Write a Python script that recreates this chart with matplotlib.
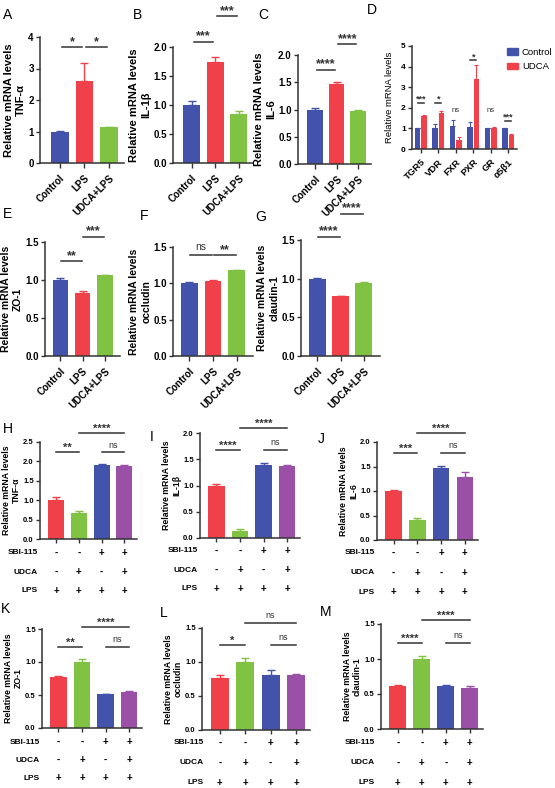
import matplotlib
matplotlib.use("Agg")
import matplotlib.pyplot as plt
import numpy as np
from matplotlib.patches import Patch
from matplotlib.transforms import blended_transform_factory

plt.rcParams['font.family'] = ['Liberation Sans', 'DejaVu Sans']

# ---- data ----
groups3 = ["Control", "LPS", "UDCA+LPS"]
tnf_a = [1.0, 2.6, 1.13]
tnf_a_err = [0.02, 0.57, 0.02]
il1b_b = [1.0, 1.75, 0.85]
il1b_b_err = [0.07, 0.08, 0.05]
il6_c = [1.0, 1.46, 0.98]
il6_c_err = [0.02, 0.04, 0.01]

genes = ["TGR5", "VDR", "FXR", "PXR", "GR", "α5β1"]
ctrl_d = [1.0, 1.03, 1.1, 1.05, 1.0, 1.0]
ctrl_d_err = [0.02, 0.2, 0.3, 0.25, 0.03, 0.01]
udca_d = [1.6, 1.73, 0.45, 3.4, 1.03, 0.7]
udca_d_err = [0.05, 0.13, 0.14, 0.68, 0.04, 0.01]
sig_d = ["***", "*", "ns", "*", "ns", "***"]
sig_d_y = [2.24, 2.24, 1.7, 4.3, 1.7, 1.38]

zo1_e = [1.0, 0.83, 1.06]
zo1_e_err = [0.02, 0.03, 0.01]
occ_f = [1.0, 1.03, 1.18]
occ_f_err = [0.02, 0.01, 0.01]
cla_g = [1.0, 0.77, 0.95]
cla_g_err = [0.01, 0.01, 0.01]

sbi = ["-", "-", "+", "+"]
udca_t = ["-", "+", "-", "+"]
lps = ["+", "+", "+", "+"]
row_names = ["SBI-115", "UDCA", "LPS"]

tnf_h = [1.0, 0.68, 1.92, 1.87]
tnf_h_err = [0.08, 0.03, 0.01, 0.04]
il1b_i = [1.0, 0.14, 1.4, 1.37]
il1b_i_err = [0.02, 0.03, 0.03, 0.03]
il6_j = [1.0, 0.41, 1.46, 1.28]
il6_j_err = [0.03, 0.03, 0.05, 0.11]
zo1_k = [0.77, 1.0, 0.51, 0.54]
zo1_k_err = [0.02, 0.05, 0.01, 0.02]
occ_l = [0.77, 1.0, 0.81, 0.81]
occ_l_err = [0.04, 0.06, 0.07, 0.02]
cla_m = [0.62, 1.0, 0.62, 0.59]
cla_m_err = [0.01, 0.05, 0.01, 0.02]

BLUE = "#4352AA"
RED = "#F0404A"
GREEN = "#80C342"
PURPLE = "#9A50A6"
LINE = "#333333"
cols3 = [BLUE, RED, GREEN]
cols4 = [RED, GREEN, BLUE, PURPLE]

W, H = 555, 788
fig = plt.figure(figsize=(W / 100, H / 100), dpi=100)


def box(x0, x1, ytop, ybot):
    return fig.add_axes([x0 / W, 1 - ybot / H, (x1 - x0) / W, (ybot - ytop) / H])


def style(ax, ymax, step, fs, fmt="{:.1f}"):
    for s in ["top", "right"]:
        ax.spines[s].set_visible(False)
    for s in ["left", "bottom"]:
        ax.spines[s].set_linewidth(1.1)
        ax.spines[s].set_color(LINE)
    ticks = np.arange(0, ymax + 1e-9, step)
    ax.set_ylim(0, ymax)
    ax.set_yticks(ticks)
    ax.set_yticklabels([fmt.format(t) for t in ticks], fontweight="bold", fontsize=fs)
    ax.tick_params(length=3, width=1, color=LINE, pad=1.5)


def bars(ax, vals, errs, cols, width=0.72):
    x = np.arange(len(vals))
    ax.bar(x, vals, width=width, color=cols, zorder=2)
    for xi, v, e, c in zip(x, vals, errs, cols):
        ax.errorbar(xi, v, yerr=[[0], [e]], color=c, capsize=3, elinewidth=1, capthick=1, zorder=1)
    return x


def sig(ax, x1, x2, y, txt, fs=8, shrink=0.04):
    ax.plot([x1 + shrink, x2 - shrink], [y, y], color=LINE, lw=1.1, clip_on=False)
    label(ax, (x1 + x2) / 2, y, txt, fs)


def label(ax, x, y, txt, fs=8):
    if txt == "ns":
        ax.annotate(txt, (x, y), xytext=(0, 2), textcoords="offset points", ha="center",
                    va="bottom", fontsize=fs - 1.5, color=LINE, annotation_clip=False)
    else:
        ax.annotate(txt, (x, y), xytext=(0, -0.5), textcoords="offset points", ha="center",
                    va="bottom", fontsize=fs, fontweight="bold", color=LINE, annotation_clip=False)


def letter(ch, x, y):
    fig.text(x / W, 1 - y / H, ch, fontsize=10, va="top", ha="left")


def sign_rows(ax, xr, ys):
    tr = blended_transform_factory(ax.transData, fig.transFigure)
    for name, signs, y in zip(row_names, [sbi, udca_t, lps], ys):
        fig.text(xr / W, 1 - y / H, name, ha="right", va="center", fontsize=6, fontweight="bold")
        for i, s in enumerate(signs):
            ax.text(i, 1 - y / H, s, transform=tr, ha="center", va="center",
                    fontsize=7, fontweight="bold")


# ---- row 1: A, B, C ----
row1 = [
    ("A", (40, 124, 37, 163), tnf_a, tnf_a_err, 4, 1, "{:.0f}", "TNF-α",
     [(0, 1, "*", 3.67), (1, 2, "*", 3.67)], (3, 8)),
    ("B", (173, 253, 47, 163), il1b_b, il1b_b_err, 2.0, 0.5, "{:.1f}", "IL-1β",
     [(0, 1, "***", 2.09), (1, 2, "***", 2.53)], (133, 8)),
    ("C", (298, 371, 55, 164), il6_c, il6_c_err, 2.0, 0.5, "{:.1f}", "IL-6",
     [(0, 1, "****", 1.73), (1, 2, "****", 2.2)], (258, 8)),
]
for ch, bx, vals, errs, ymax, step, fmt, gene, sigs, lp in row1:
    ax = box(*bx)
    x = bars(ax, vals, errs, cols3)
    style(ax, ymax, step, 7, fmt)
    ax.set_xlim(-0.8, 2.6)
    ax.set_xticks(x)
    ax.set_xticklabels(groups3, rotation=45, ha="right", rotation_mode="anchor",
                       fontweight="bold", fontsize=7)
    ax.tick_params(axis="x", length=3.5, pad=4)
    ax.set_ylabel("Relative mRNA levels\n" + gene, fontweight="bold", fontsize=8,
                  labelpad=1.5, linespacing=1.25)
    for a, b, t, y in sigs:
        sig(ax, a, b, y, t, fs=9, shrink=0.08)
    letter(ch, *lp)

# ---- D ----
axd = box(412, 517, 46, 149)
xd = np.arange(len(genes))
off, bw = 0.18, 0.3
axd.bar(xd - off, ctrl_d, width=bw, color=BLUE, zorder=2)
axd.bar(xd + off, udca_d, width=bw, color=RED, zorder=2)
for xi, v, e in zip(xd - off, ctrl_d, ctrl_d_err):
    axd.errorbar(xi, v, yerr=[[0], [e]], color=BLUE, capsize=1.5, elinewidth=0.8, capthick=0.8)
for xi, v, e in zip(xd + off, udca_d, udca_d_err):
    axd.errorbar(xi, v, yerr=[[0], [e]], color=RED, capsize=1.5, elinewidth=0.8, capthick=0.8)
style(axd, 5, 1, 6, "{:.0f}")
axd.set_xlim(-0.5, 5.5)
axd.set_xticks(xd)
axd.set_xticklabels(genes, rotation=45, ha="right", rotation_mode="anchor",
                    fontweight="bold", fontsize=6.8)
axd.tick_params(axis="x", pad=3)
axd.set_ylabel("Relative mRNA levels", fontsize=6.8, labelpad=5)
for xi, t, y in zip(xd, sig_d, sig_d_y):
    if t == "ns":
        axd.text(xi, y, t, ha="center", va="bottom", fontsize=5.5, color=LINE)
    else:
        sig(axd, xi - off, xi + off, y, t, fs=6.5, shrink=0)
axd.legend([Patch(color=BLUE), Patch(color=RED)], ["Control", "UDCA"], loc="upper left",
           bbox_to_anchor=(503 / W, 1 - 44 / H), bbox_transform=fig.transFigure,
           frameon=False, fontsize=6.8, handlelength=1.2, handleheight=0.7,
           handletextpad=0.4, labelspacing=0.6, borderaxespad=0)
letter("D", 367, 3)

# ---- row 2: E, F, G ----
row2 = [
    ("E", (45, 120, 242, 356), zo1_e, zo1_e_err, "ZO-1",
     [(0, 1, "**", 1.25), (1, 2, "***", 1.57)], (3, 207)),
    ("F", (173, 253, 247, 356), occ_f, occ_f_err, "occludin",
     [(0, 1, "ns", 1.39), (1, 2, "**", 1.39)], (140, 209)),
    ("G", (301, 380, 240, 356), cla_g, cla_g_err, "claudin-1",
     [(0, 1, "****", 1.54), (1, 2, "****", 1.84)], (255, 210)),
]
for ch, bx, vals, errs, gene, sigs, lp in row2:
    ax = box(*bx)
    x = bars(ax, vals, errs, cols3)
    style(ax, 1.5, 0.5, 7)
    ax.set_xlim(-0.7, 2.7)
    ax.set_xticks(x)
    ax.set_xticklabels(groups3, rotation=45, ha="right", rotation_mode="anchor",
                       fontweight="bold", fontsize=7)
    ax.tick_params(axis="x", length=3.5, pad=4)
    ax.set_ylabel("Relative mRNA levels\n" + gene, fontweight="bold", fontsize=7.5,
                  labelpad=1.5, linespacing=1.25)
    for a, b, t, y in sigs:
        sig(ax, a, b, y, t, fs=9, shrink=0.04)
    letter(ch, *lp)

# ---- rows 3 and 4: H - M ----
row34 = [
    ("H", (40, 137, 442, 539), tnf_h, tnf_h_err, 2.5, "TNF-α",
     [(0, 1, "**", 2.23), (2, 3, "ns", 2.23), (1, 3, "****", 2.74)], (3, 422), 38, [553, 572, 591]),
    ("I", (200, 300, 433, 538), il1b_i, il1b_i_err, 2.0, "IL-1β",
     [(0, 1, "****", 1.68), (2, 3, "ns", 1.68), (1, 3, "****", 2.1)], (150, 430), 198, [551, 570, 589]),
    ("J", (377, 478, 442, 540), il6_j, il6_j_err, 2.0, "IL-6",
     [(0, 1, "***", 1.77), (2, 3, "ns", 1.77), (1, 3, "****", 2.18)], (318, 432), 375, [553, 573, 592]),
    ("K", (42, 142, 629, 728), zo1_k, zo1_k_err, 1.5, "ZO-1",
     [(0, 1, "**", 1.23), (2, 3, "ns", 1.23), (1, 3, "****", 1.53)], (1, 602), 40, [742, 760, 778]),
    ("L", (202, 310, 628, 730), occ_l, occ_l_err, 1.5, "occludin",
     [(0, 1, "*", 1.25), (2, 3, "ns", 1.25), (1, 3, "ns", 1.57)], (160, 606), 204, [743, 763, 783]),
    ("M", (381, 483, 624, 729), cla_m, cla_m_err, 1.5, "claudin-1",
     [(0, 1, "****", 1.23), (2, 3, "ns", 1.23), (1, 3, "****", 1.56)], (320, 605), 375, [743, 763, 783]),
]
for ch, bx, vals, errs, ymax, gene, sigs, lp, xr, ys in row34:
    ax = box(*bx)
    x = bars(ax, vals, errs, cols4, width=0.7)
    style(ax, ymax, 0.5, 5.5)
    ax.set_xlim(-0.7, 3.55)
    ax.set_xticks(x)
    ax.set_xticklabels([])
    ax.set_ylabel("Relative mRNA levels\n" + gene, fontweight="bold", fontsize=6.3,
                  labelpad=1.5, linespacing=1.2)
    for a, b, t, y in sigs:
        sig(ax, a, b, y, t, fs=8, shrink=0.0)
    sign_rows(ax, xr, ys)
    letter(ch, *lp)

fig.savefig("out.png", dpi=100)
